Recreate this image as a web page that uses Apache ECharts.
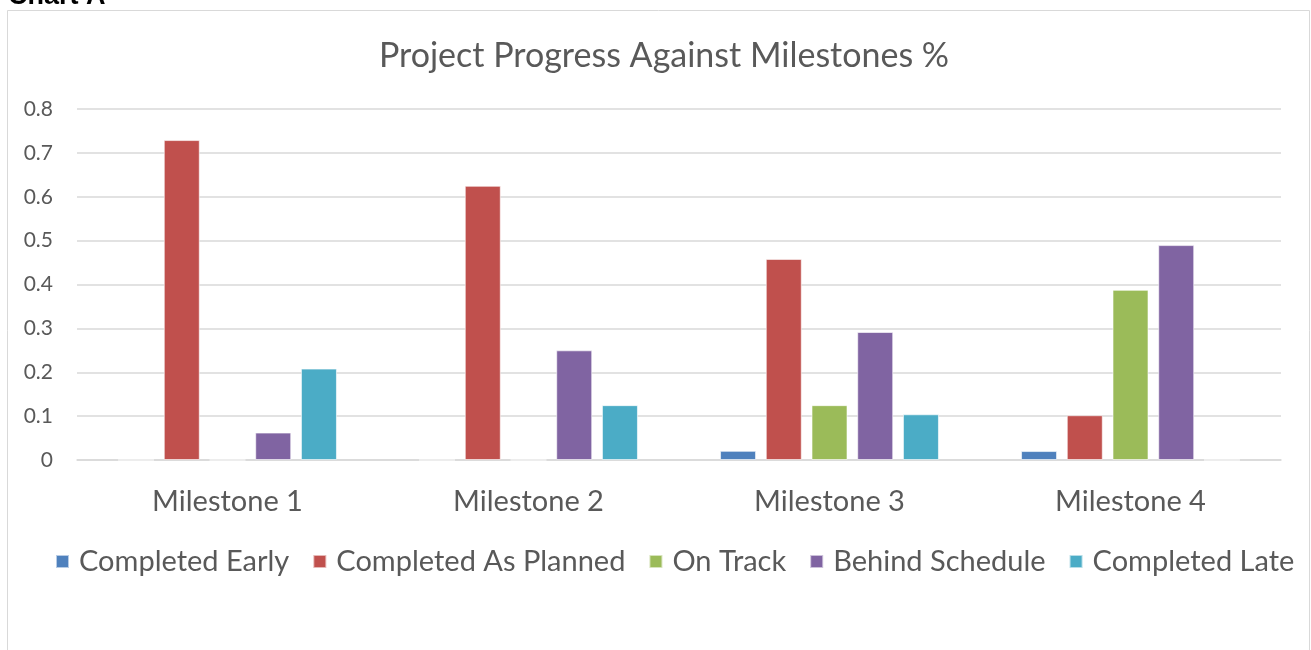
<!DOCTYPE html>
<html>
<head>
<meta charset="utf-8">
<script src="https://cdn.jsdelivr.net/npm/echarts@6/dist/echarts.min.js"></script>
<style>
    html, body { margin: 0; padding: 0; background: #fff; }
    #main { width: 1311px; height: 650px; }
</style>
</head>
<body>
<div id="main"></div>
<script>
    var milestones = ['Milestone 1', 'Milestone 2', 'Milestone 3', 'Milestone 4'];
    var seriesNames = ['Completed Early', 'Completed As Planned', 'On Track', 'Behind Schedule', 'Completed Late'];
    var completedEarly = [0, 0, 0.0208, 0.0204];
    var completedAsPlanned = [0.7292, 0.625, 0.4583, 0.102];
    var onTrack = [0, 0, 0.125, 0.3878];
    var behindSchedule = [0.0625, 0.25, 0.2917, 0.4898];
    var completedLate = [0.2083, 0.125, 0.1042, 0];
    var yTicks = [0, 0.1, 0.2, 0.3, 0.4, 0.5, 0.6, 0.7, 0.8];

    var colors = ['#4f81bd', '#c0504d', '#9bbb59', '#8064a2', '#4bacc6'];
    var values = [completedEarly, completedAsPlanned, onTrack, behindSchedule, completedLate];
    var font = 'Lato, "Open Sans", sans-serif';

    var myChart = echarts.init(document.getElementById('main'));

    var series = [];
    for (var i = 0; i < seriesNames.length; i++) {
        series.push({
            name: seriesNames[i],
            type: 'bar',
            data: values[i],
            barWidth: 36,
            barGap: '27%',
            itemStyle: {
                color: colors[i],
                borderColor: 'rgba(255,255,255,0.6)',
                borderWidth: 1
            }
        });
    }

    var option = {
        backgroundColor: '#fff',
        animation: false,
        color: colors,
        title: {
            text: 'Project Progress Against Milestones %',
            left: 659,
            textAlign: 'center',
            top: 34,
            textStyle: {
                fontFamily: font,
                fontWeight: 'normal',
                fontSize: 34,
                color: '#595959'
            }
        },
        graphic: [
            {
                type: 'rect',
                shape: { x: 7.5, y: 10.5, width: 1302, height: 700 },
                style: { fill: 'none', stroke: '#d9d9d9', lineWidth: 1 },
                z: -1
            },
            {
                type: 'text',
                left: 8,
                top: -17,
                style: {
                    text: 'Chart A',
                    font: 'bold 27px "Liberation Sans", Arial, sans-serif',
                    fill: '#000'
                }
            }
        ],
        legend: {
            data: seriesNames,
            left: 50,
            top: 542,
            width: 1300,
            itemWidth: 13,
            itemHeight: 13,
            itemGap: 23,
            icon: 'rect',
            textStyle: {
                fontFamily: font,
                fontSize: 29,
                color: '#595959',
                padding: [0, 0, 0, 5]
            }
        },
        grid: {
            left: 77,
            right: 30,
            top: 109,
            bottom: 190,
            containLabel: false
        },
        xAxis: {
            type: 'category',
            data: milestones,
            axisTick: { show: false },
            axisLine: { lineStyle: { color: '#d9d9d9', width: 1.5 } },
            axisLabel: {
                margin: 27,
                fontFamily: font,
                fontSize: 29,
                color: '#595959'
            }
        },
        yAxis: {
            type: 'value',
            min: yTicks[0],
            max: yTicks[yTicks.length - 1],
            interval: 0.1,
            axisLine: { show: false },
            axisTick: { show: false },
            axisLabel: {
                margin: 24,
                fontFamily: font,
                fontSize: 21,
                color: '#595959',
                formatter: function (v) { return String(Math.round(v * 10) / 10); }
            },
            splitLine: { lineStyle: { color: '#d9d9d9', width: 1.5 } }
        },
        series: series
    };

    myChart.setOption(option);
</script>
</body>
</html>
